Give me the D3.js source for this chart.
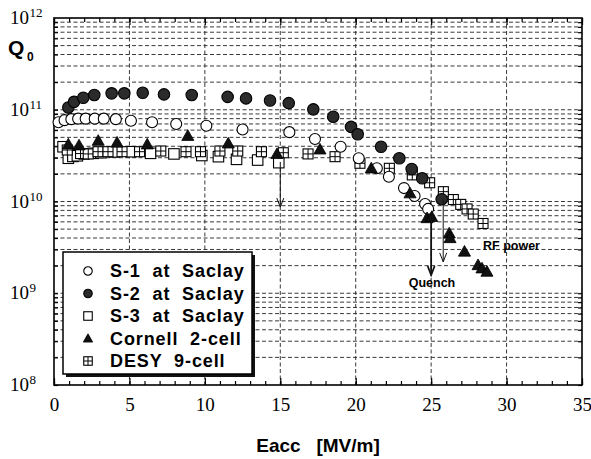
<!DOCTYPE html>
<html>
<head>
<meta charset="utf-8">
<script src="https://cdn.jsdelivr.net/npm/d3@7/dist/d3.min.js"></script>
<style>
  body { margin: 0; background: #fff; }
  svg { display: block; }
  .serif { font-family: 'Liberation Serif', 'Times New Roman', 'DejaVu Serif', serif; }
  .sans { font-family: 'Liberation Sans', Arial, Helvetica, sans-serif; font-weight: bold; }
</style>
</head>
<body>
<div id="chart"></div>
<script>
// Data: [Eacc in MV/m, Q0]
const s1Saclay = [
  [0.3, 7.3e10], [0.7, 7.7e10], [1.15, 7.9e10], [1.6, 8.0e10], [2.1, 8.0e10],
  [2.7, 8.0e10], [3.3, 8.0e10], [4.1, 7.9e10], [5.1, 7.6e10], [6.5, 7.3e10],
  [8.1, 7.0e10], [10.1, 6.7e10], [12.5, 6.1e10], [15.6, 5.7e10], [17.3, 4.8e10],
  [19.0, 3.95e10], [20.2, 2.96e10], [21.4, 2.3e10], [22.2, 1.86e10], [23.2, 1.4e10],
  [23.9, 1.15e10], [24.6, 9.4e9], [24.8, 8.3e9]
];
const s2Saclay = [
  [0.95, 1.06e11], [1.33, 1.22e11], [1.94, 1.35e11], [2.67, 1.45e11], [3.82, 1.51e11],
  [4.66, 1.51e11], [5.88, 1.53e11], [7.29, 1.47e11], [9.13, 1.45e11], [11.51, 1.38e11],
  [12.73, 1.33e11], [14.32, 1.26e11], [15.56, 1.18e11], [17.19, 1.01e11], [18.51, 8.4e10],
  [19.69, 6.5e10], [20.13, 5.4e10], [21.68, 3.95e10], [22.89, 2.96e10], [23.71, 2.26e10],
  [24.41, 1.79e10], [25.7, 1.06e10]
];
const s3Saclay = [
  [0.6, 3.95e10], [0.95, 2.96e10], [1.25, 3.1e10], [1.55, 3.15e10], [2.0, 3.3e10],
  [2.6, 3.35e10], [3.1, 3.4e10], [4.0, 3.47e10], [5.1, 3.49e10], [6.4, 3.35e10],
  [7.95, 3.3e10], [9.8, 3.17e10], [10.9, 3.08e10], [12.1, 2.88e10], [13.5, 2.83e10],
  [14.9, 2.65e10]
];
const cornell2cell = [
  [0.95, 4.2e10], [1.66, 4.1e10], [2.93, 4.6e10], [4.18, 4.4e10], [6.18, 4.2e10],
  [8.87, 5.2e10], [11.55, 4.3e10], [14.78, 3.3e10], [17.63, 3.7e10], [21.03, 2.3e10],
  [23.6, 1.23e10], [24.73, 6.6e9], [25.04, 6.8e9], [26.2, 4.5e9], [26.25, 4.0e9],
  [27.21, 2.85e9], [28.11, 2.03e9], [28.37, 1.87e9], [28.7, 1.72e9]
];
const desy9cell = [
  [0.88, 3.64e10], [1.76, 3.33e10], [2.27, 3.3e10], [2.92, 3.49e10], [3.58, 3.49e10],
  [4.51, 3.49e10], [5.67, 3.49e10], [7.08, 3.55e10], [8.75, 3.49e10], [9.71, 3.49e10],
  [11.0, 3.55e10], [12.18, 3.55e10], [13.75, 3.49e10], [15.2, 3.4e10], [16.84, 3.3e10],
  [18.63, 3.08e10], [20.28, 2.61e10], [22.23, 2.3e10], [23.75, 1.95e10], [24.9, 1.6e10],
  [25.81, 1.28e10], [26.47, 1.05e10], [26.96, 9.3e9], [27.38, 8.3e9], [27.79, 7.3e9],
  [28.44, 5.76e9]
];
// arrows: [Eacc, Q0 start, Q0 end]
const arrows = [[15, 2.7e10, 8.7e9], [25.0, 6.6e9, 1.58e9], [25.8, 1.06e10, 2.2e9]];
const legendNames = ['S-1  at  Saclay', 'S-2  at  Saclay', 'S-3  at  Saclay', 'Cornell  2-cell', 'DESY  9-cell'];
const xTicks = [0, 5, 10, 15, 20, 25, 30, 35];
const yExponents = [8, 9, 10, 11, 12];

const width = 591, height = 459;
// plot box edges (window.top is taken, so prefixed names)
const plotLeft = 54, plotRight = 582, plotTop = 18, plotBottom = 385;

const svg = d3.select('#chart').append('svg')
  .attr('width', width)
  .attr('height', height);

svg.append('rect').attr('width', width).attr('height', height).attr('fill', '#fff');

const x = d3.scaleLinear().domain([0, 35]).range([plotLeft, plotRight]);
const y = d3.scaleLog().domain([1e8, 1e12]).range([plotBottom, plotTop]);

// minor decade values 2..9 x 10^n plus the inner decades
const yMinor = [];
for (let n = 8; n < 12; n++) {
  for (let k = 1; k <= 9; k++) yMinor.push(k * Math.pow(10, n));
}
const xMinor = d3.range(0, 36, 1);

// dashed grid
const grid = svg.append('g').attr('class', 'grid')
  .attr('stroke', '#222').attr('stroke-width', 0.9).attr('stroke-dasharray', '4,2.5');
grid.selectAll('line.h')
  .data(yMinor.filter(v => v > 1e8))
  .join('line').attr('class', 'h')
  .attr('x1', plotLeft).attr('x2', plotRight)
  .attr('y1', d => y(d)).attr('y2', d => y(d));
grid.selectAll('line.v')
  .data(xTicks.filter(v => v > 0 && v < 35))
  .join('line').attr('class', 'v')
  .attr('x1', d => x(d)).attr('x2', d => x(d))
  .attr('y1', plotTop).attr('y2', plotBottom);

// axes ticks pointing inwards on all four sides
const tickStyle = g => {
  g.select('.domain').remove();
  g.selectAll('line').attr('stroke', '#000').attr('stroke-width', 1.2);
};
svg.append('g').attr('transform', `translate(0,${plotBottom})`)
  .call(d3.axisBottom(x).tickValues(xMinor).tickSize(-4).tickFormat(''))
  .call(tickStyle);
svg.append('g').attr('transform', `translate(0,${plotTop})`)
  .call(d3.axisTop(x).tickValues(xMinor).tickSize(-4).tickFormat(''))
  .call(tickStyle);
svg.append('g').attr('transform', `translate(0,${plotBottom})`)
  .call(d3.axisBottom(x).tickValues(xTicks).tickSize(-7).tickPadding(13).tickFormat(d3.format('d')))
  .call(tickStyle)
  .call(g => g.attr('font-family', null).attr('font-size', null))
  .call(g => g.selectAll('text')
    .classed('serif', true)
    .style('font-size', '19px').attr('fill', '#000'));
svg.append('g').attr('transform', `translate(0,${plotTop})`)
  .call(d3.axisTop(x).tickValues(xTicks).tickSize(-7).tickFormat(''))
  .call(tickStyle);
svg.append('g').attr('transform', `translate(${plotLeft},0)`)
  .call(d3.axisLeft(y).tickValues(yMinor).tickSize(-4).tickFormat(''))
  .call(tickStyle);
svg.append('g').attr('transform', `translate(${plotRight},0)`)
  .call(d3.axisRight(y).tickValues(yMinor).tickSize(-4).tickFormat(''))
  .call(tickStyle);

// frame
svg.append('rect')
  .attr('x', plotLeft).attr('y', plotTop)
  .attr('width', plotRight - plotLeft).attr('height', plotBottom - plotTop)
  .attr('fill', 'none').attr('stroke', '#000').attr('stroke-width', 1.6);

// y tick labels 10^n
const yLab = svg.append('g').attr('class', 'serif').attr('fill', '#000');
yLab.selectAll('text.base')
  .data(yExponents)
  .join('text').attr('class', 'base')
  .attr('x', 29).attr('y', d => y(Math.pow(10, d)) + 6)
  .attr('text-anchor', 'end').style('font-size', '19px')
  .text('10');
yLab.selectAll('text.exp')
  .data(yExponents)
  .join('text').attr('class', 'exp')
  .attr('x', 29.5).attr('y', d => y(Math.pow(10, d)) - 1)
  .style('font-size', '13px')
  .text(d => d);

// axis titles
const q = svg.append('text')
  .attr('class', 'sans')
  .attr('x', 8).attr('y', 55)
  .style('font-size', '21px').attr('fill', '#000');
q.append('tspan').text('Q');
q.append('tspan').attr('x', 27).attr('y', 61).style('font-size', '12px').text('0');

svg.append('text')
  .attr('class', 'sans')
  .attr('x', 318).attr('y', 452)
  .attr('text-anchor', 'middle')
  .style('font-size', '19px').attr('fill', '#000')
  .style('white-space', 'pre')
  .text('Eacc   [MV/m]');

// marker drawers; s is the size in px
const markers = {
  openCircle: (g, s) => g.append('circle').attr('r', s / 2)
    .attr('fill', '#fff').attr('stroke', '#000').attr('stroke-width', 1.1),
  fillCircle: (g, s) => g.append('circle').attr('r', s / 2)
    .attr('fill', '#2b2b2b').attr('stroke', '#000').attr('stroke-width', 1.1),
  openSquare: (g, s) => g.append('rect').attr('x', -s / 2).attr('y', -s / 2)
    .attr('width', s).attr('height', s)
    .attr('fill', '#fff').attr('stroke', '#000').attr('stroke-width', 1.1),
  triangle: (g, s) => g.append('path')
    .attr('d', `M0,${-s * 0.55}L${s * 0.55},${s * 0.42}L${-s * 0.55},${s * 0.42}Z`)
    .attr('fill', '#111').attr('stroke', '#000').attr('stroke-width', 0.8),
  crossSquare: (g, s) => {
    g.append('rect').attr('x', -s / 2).attr('y', -s / 2)
      .attr('width', s).attr('height', s)
      .attr('fill', '#fff').attr('stroke', '#000').attr('stroke-width', 1.1);
    g.append('path').attr('d', `M${-s / 2},0H${s / 2}M0,${-s / 2}V${s / 2}`)
      .attr('stroke', '#000').attr('stroke-width', 1);
  }
};

const seriesList = [
  {data: s3Saclay, marker: 'openSquare', size: 10.5},
  {data: desy9cell, marker: 'crossSquare', size: 10},
  {data: s1Saclay, marker: 'openCircle', size: 11},
  {data: cornell2cell, marker: 'triangle', size: 11},
  {data: s2Saclay, marker: 'fillCircle', size: 11.5}
];

const points = svg.append('g').attr('class', 'points');
seriesList.forEach(s => {
  points.append('g')
    .selectAll('g')
    .data(s.data)
    .join('g')
    .attr('transform', d => `translate(${x(d[0])},${y(d[1])})`)
    .each(function () { markers[s.marker](d3.select(this), s.size); });
});

// arrows with open V heads
const arrowG = svg.append('g').attr('stroke', '#111').attr('fill', 'none');
arrowG.selectAll('g')
  .data(arrows)
  .join('g')
  .each(function (d, i) {
    const g = d3.select(this);
    const ax = x(d[0]), y0 = y(d[1]), y1 = y(d[2]);
    const w = i === 1 ? 1.8 : 1;
    g.append('line').attr('x1', ax).attr('x2', ax).attr('y1', y0).attr('y2', y1)
      .attr('stroke-width', w);
    g.append('path').attr('d', `M${ax - 3.5},${y1 - 9}L${ax},${y1}L${ax + 3.5},${y1 - 9}`)
      .attr('stroke-width', w);
  });

// annotations
const note = svg.append('g')
  .attr('class', 'sans')
  .style('font-size', '12.5px').attr('fill', '#000')
  .style('white-space', 'pre');
note.append('text').attr('x', 432).attr('y', 287).attr('text-anchor', 'middle').text('Quench');
note.append('text').attr('x', 483).attr('y', 250).text('RF  power');

// legend with a drop shadow
const legend = svg.append('g').attr('class', 'legend');
legend.append('rect').attr('x', 66).attr('y', 255).attr('width', 189).attr('height', 122).attr('fill', '#111');
legend.append('rect').attr('x', 63).attr('y', 252).attr('width', 189).attr('height', 122)
  .attr('fill', '#fff').attr('stroke', '#000').attr('stroke-width', 1.5);
const legendMarkers = ['openCircle', 'fillCircle', 'openSquare', 'triangle', 'crossSquare'];
const rows = legend.selectAll('g.row')
  .data(legendNames)
  .join('g').attr('class', 'row')
  .attr('transform', (d, i) => `translate(0,${277 + i * 22.5})`);
rows.each(function (d, i) {
  const g = d3.select(this).append('g').attr('transform', 'translate(88,-6)');
  markers[legendMarkers[i]](g, 8.5);
});
rows.append('text')
  .attr('class', 'sans')
  .attr('x', 110)
  .style('font-size', '18px').attr('fill', '#000')
  .attr('letter-spacing', 0.9)
  .style('white-space', 'pre')
  .text(d => d);
</script>
</body>
</html>
